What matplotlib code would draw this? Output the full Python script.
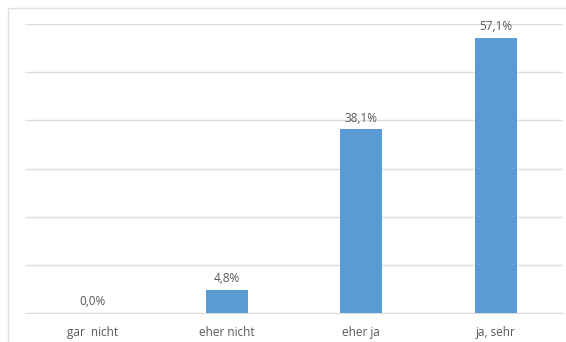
import numpy as np
import matplotlib
matplotlib.use("Agg")
from matplotlib import pyplot as plt
from matplotlib.patches import Rectangle

categories = ["gar  nicht", "eher nicht", "eher ja", "ja, sehr"]
values = [0.0, 4.8, 38.1, 57.1]
labels = ["0,0%", "4,8%", "38,1%", "57,1%"]

W, H = 566, 342
plt.rcParams['font.family'] = ['Open Sans', 'DejaVu Sans']

fig = plt.figure(figsize=(W / 100, H / 100), dpi=100)
fig.patch.set_facecolor("white")

# outer chart frame (cut off at right and bottom like the screenshot)
fig.patches.append(Rectangle((8 / W, -0.1), 1.2, (H - 8) / H + 0.1,
                             transform=fig.transFigure, fill=False,
                             edgecolor="#e0e0e0", linewidth=1.0))

ax = fig.add_axes([25 / W, (H - 313) / H, (563 - 25) / W, (313 - 24) / H])
x = np.arange(len(categories))
bars = ax.bar(x, values, width=0.31, color="#5b9bd5", zorder=3)

ax.set_xlim(-0.5, len(categories) - 0.5)
ax.set_ylim(0, 60)
ax.set_yticks(np.arange(0, 61, 10))
ax.yaxis.grid(True, color="#dedede", linewidth=1.0, zorder=0)
ax.tick_params(axis="y", left=False, labelleft=False)
ax.tick_params(axis="x", bottom=False, labelsize=8.5, labelcolor="#595959", pad=6)
ax.set_xticks(x)
ax.set_xticklabels(categories)
for s in ["top", "right", "left"]:
    ax.spines[s].set_visible(False)
ax.spines["bottom"].set_color("#dedede")

for b, lab in zip(bars, labels):
    ax.annotate(lab, (b.get_x() + b.get_width() / 2, b.get_height()),
                xytext=(0, 3.5), textcoords="offset points",
                ha="center", va="bottom", fontsize=8.5, color="#595959")

fig.savefig("out.png", dpi=100)
